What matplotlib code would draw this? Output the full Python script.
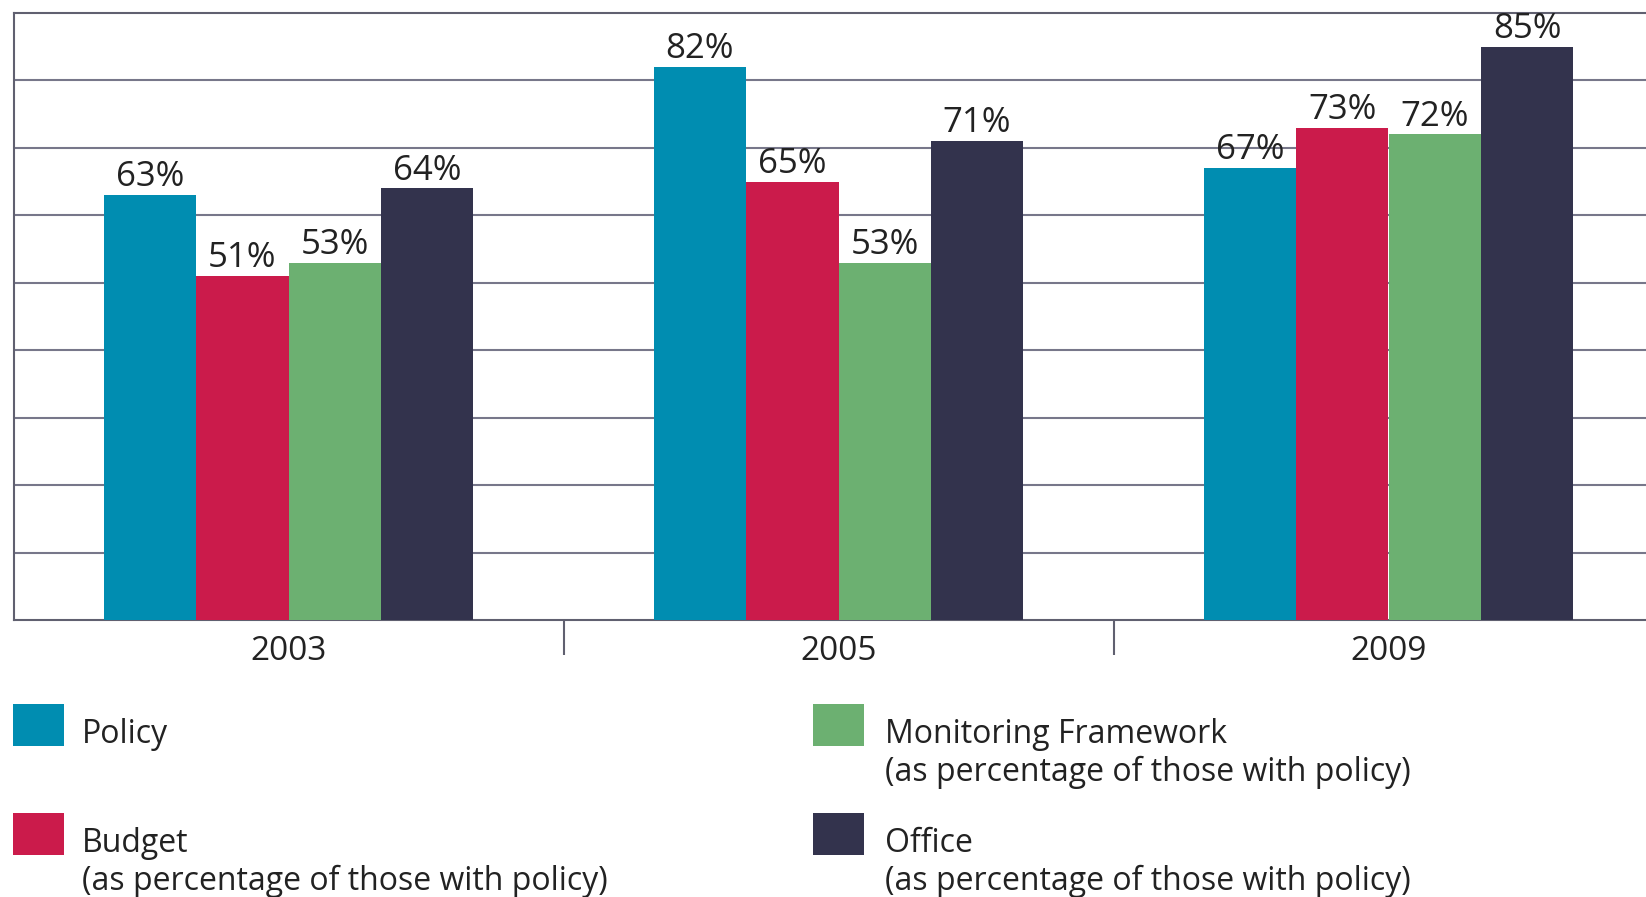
import numpy as np
import matplotlib
matplotlib.use("Agg")
import matplotlib.pyplot as plt
from matplotlib.patches import Rectangle

years = ["2003", "2005", "2009"]
series = ["Policy", "Budget", "Monitoring Framework", "Office"]
notes = ["", "(as percentage of those with policy)",
         "(as percentage of those with policy)", "(as percentage of those with policy)"]
policy = [63, 82, 67]
budget = [51, 65, 73]
monitoring = [53, 53, 72]
office = [64, 71, 85]
colors = ["#008db1", "#cb1b4b", "#6cb071", "#33334d"]

plt.rcParams["font.family"] = ["Open Sans", "DejaVu Sans"]
txt = "#222222"
W, H = 1646, 897

fig = plt.figure(figsize=(W / 100, H / 100), dpi=100)
ax = fig.add_axes([13.5 / W, (H - 620) / H, 1650 / W, 607 / H])

x = np.arange(len(years))
bw = 0.168
vals = [policy, budget, monitoring, office]
for i, v in enumerate(vals):
    xs = x + (i - 1.5) * bw
    ax.bar(xs, v, bw, color=colors[i], zorder=3, linewidth=0)
    for xx, vv in zip(xs, v):
        ax.text(xx, vv + 1.3, f"{vv}%", ha="center", va="baseline",
                fontsize=25, color=txt, zorder=4)

ax.set_xlim(-0.5, 2.5)
ax.set_ylim(0, 90)
ax.set_yticks(np.arange(10, 90, 10))
ax.yaxis.grid(True, color="#77778a", linewidth=1.5, zorder=0)
ax.tick_params(axis="y", length=0, labelleft=False)

ax.set_xticks([0.5, 1.5])
ax.set_xticklabels([])
ax.tick_params(axis="x", which="major", length=25, width=1.5, color="#606070")
ax.set_xticks(x, minor=True)
ax.set_xticklabels(years, minor=True)
ax.tick_params(axis="x", which="minor", length=0, pad=11, labelsize=24, labelcolor=txt)

for s in ["left", "bottom", "top"]:
    ax.spines[s].set_color("#606070")
    ax.spines[s].set_linewidth(1.5)
ax.spines["right"].set_visible(False)

# legend drawn by hand in two columns
pos = [(13, 82, 743), (13, 82, 852), (813, 885, 743), (813, 885, 852)]
for i, (rx, tx, base) in enumerate(pos):
    fig.add_artist(Rectangle((rx / W, (H - base - 3) / H), 51 / W, 42 / H,
                             transform=fig.transFigure, color=colors[i], linewidth=0))
    fig.text(tx / W, (H - base) / H, series[i], fontsize=23, color=txt, va="baseline")
    if notes[i]:
        fig.text(tx / W, (H - base - 38) / H, notes[i], fontsize=23, color=txt, va="baseline")

fig.savefig("out.png", dpi=100)
